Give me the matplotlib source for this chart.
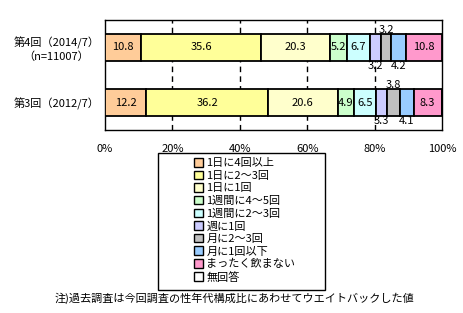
import matplotlib
matplotlib.use("Agg")
import matplotlib.pyplot as plt
from matplotlib.patches import Patch, Rectangle

plt.rcParams['font.family'] = ['Noto Sans CJK JP', 'DejaVu Sans']

rows = ["第3回（2012/7）", "第4回（2014/7）\n（n=11007）"]
categories = ["1日に4回以上", "1日に2～3回", "1日に1回", "1週間に4～5回", "1週間に2～3回",
              "週に1回", "月に2～3回", "月に1回以下", "まったく飲まない", "無回答"]
colors = ["#FFCC99", "#FFFF99", "#FFFFCC", "#CCFFCC", "#CCFFFF",
          "#CCCCFF", "#C0C0C0", "#99CCFF", "#FF99CC", "#FFFFFF"]
r3 = [12.2, 36.2, 20.6, 4.9, 6.5, 3.3, 3.8, 4.1, 8.3, 0.1]
r4 = [10.8, 35.6, 20.3, 5.2, 6.7, 3.2, 3.2, 4.2, 10.8, 0.0]
values = [r3, r4]

fig = plt.figure(figsize=(4.63, 3.13), dpi=100)
ax = fig.add_axes([105 / 463, 1 - 130 / 313, 337 / 463, 110 / 313])

fs = 8
for i, vals in enumerate(values):
    left = 0
    for j, v in enumerate(vals):
        if v > 0:
            ax.barh(i, v, left=left, height=0.49, color=colors[j], edgecolor="black",
                    linewidth=1.3, zorder=3)
        c = left + v / 2
        # narrow segments get their label above or below the bar
        if j in (5, 7):
            ax.text(c, i - 0.33, f"{v:.1f}", ha="center", va="center", fontsize=fs, zorder=4)
        elif j == 6:
            ax.text(c, i + 0.31, f"{v:.1f}", ha="center", va="center", fontsize=fs, zorder=4)
        elif j < 9:
            ax.text(c, i, f"{v:.1f}", ha="center", va="center", fontsize=fs, zorder=4)
        left += v

ax.set_xlim(0, 100)
ax.set_ylim(-0.5, 1.5)
for x in [20, 40, 60, 80]:
    ax.axvline(x, color="black", linestyle=(0, (4, 3)), linewidth=1, zorder=1)
ax.set_xticks(range(0, 101, 20))
ax.set_xticklabels([f"{x}%" for x in range(0, 101, 20)], fontsize=fs)
ax.tick_params(axis="x", length=0, pad=10)
ax.set_yticks([0, 1])
ax.set_yticklabels(rows, fontsize=fs)
ax.tick_params(axis="y", length=0, pad=4)
for lab in ax.get_yticklabels():
    lab.set_multialignment("center")
for s in ax.spines.values():
    s.set_linewidth(1)

# legend box drawn by hand so it can be wider than its entries
fig.patches.append(Rectangle((158 / 463, 1 - 290 / 313), 167 / 463, 137 / 313,
                             transform=fig.transFigure, facecolor="none",
                             edgecolor="black", linewidth=1))
handles = [Patch(facecolor=c, edgecolor="black", linewidth=1) for c in colors]
fig.legend(handles, categories, loc="upper left", bbox_to_anchor=(194 / 463, 1 - 158 / 313),
           fontsize=fs, frameon=False, handlelength=0.8, handleheight=0.8,
           handletextpad=0.3, labelspacing=0.22, borderpad=0, borderaxespad=0)

fig.text(234 / 463, 1 - 298 / 313, "注)過去調査は今回調査の性年代構成比にあわせてウエイトバックした値",
         ha="center", va="center", fontsize=fs)

fig.savefig("out.png", dpi=100)
